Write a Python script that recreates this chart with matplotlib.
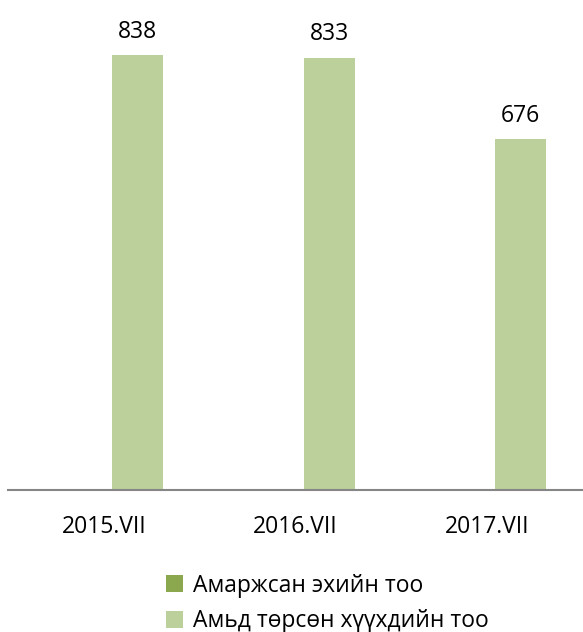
import matplotlib.pyplot as plt
import numpy as np

categories = ["2015.VII", "2016.VII", "2017.VII"]
mothers = [np.nan, np.nan, np.nan]   # not shown in the picture
births = [838, 833, 676]
series_names = ["Амаржсан эхийн тоо", "Амьд төрсөн хүүхдийн тоо"]

plt.rcParams['font.family'] = ['Open Sans', 'DejaVu Sans']

fig = plt.figure(figsize=(5.83, 6.32), dpi=100)
ax = fig.add_axes([0.0137, 0.2247, 0.9863, 0.739])

x = np.arange(len(categories))
width = 0.266
ax.bar(x - 0.175, mothers, width, color="#8BA84F", label=series_names[0])
bars = ax.bar(x + 0.175, births, width, color="#BBD09A", label=series_names[1])

for b, v in zip(bars, births):
    ax.text(b.get_x() + b.get_width() / 2, v + 22, str(v),
            ha="center", va="bottom", fontsize=16.5, color="#000000")

ax.set_xlim(-0.5, 2.5)
ax.set_ylim(0, 900)
ax.set_xticks(x)
ax.set_xticklabels(categories, fontsize=16.5)
ax.tick_params(axis="x", length=0, pad=18)
ax.set_yticks([])
for s in ["top", "right", "left"]:
    ax.spines[s].set_visible(False)
ax.spines["bottom"].set_color("#868686")
ax.spines["bottom"].set_linewidth(1.5)

fig.legend(loc="upper left", bbox_to_anchor=(0.284, 0.092), frameon=False,
           borderpad=0, borderaxespad=0,
           fontsize=16.5, handlelength=0.75, handleheight=0.75,
           handletextpad=0.45, labelspacing=0.5)

fig.savefig("out.png", dpi=100)
